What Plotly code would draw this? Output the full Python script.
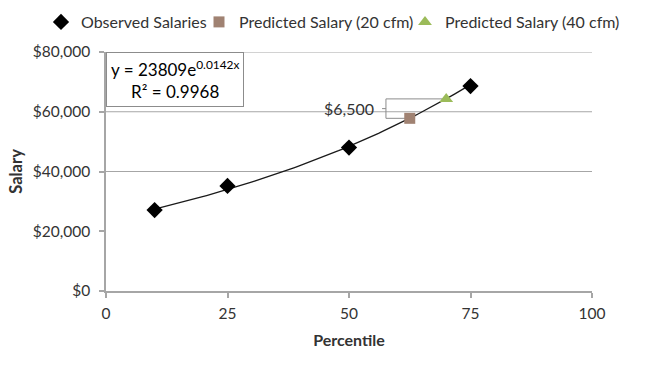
import numpy as np
import plotly.graph_objects as go

# Observed data
obs_pct = [10, 25, 50, 75]
obs_salary = [27100, 35150, 48000, 68600]

# Predicted points
pred20_pct = [62.5]
pred20_salary = [57800]
pred40_pct = [70]
pred40_salary = [64300]

# Trendline coefficients (as printed on chart)
trend_a = 23809
trend_b = 0.0142
trend_r2 = "0.9968"
trend_x = np.linspace(10, 75, 80)
trend_y = trend_a * np.exp(trend_b * trend_x)

y_ticks = [0, 20000, 40000, 60000, 80000]
y_labels = ["$0", "$20,000", "$40,000", "$60,000", "$80,000"]
x_ticks = [0, 25, 50, 75, 100]
grid_levels = [40000, 60000, 80000]

diff_label = "$6,500"

FONT = "Lato, 'Open Sans', sans-serif"
AXIS_COLOR = "#a6a6a6"
TEXT_COLOR = "#333333"

fig = go.Figure()

fig.add_trace(go.Scatter(x=trend_x, y=trend_y, mode="lines",
                         line=dict(color="#1a1a1a", width=1.3),
                         showlegend=False, hoverinfo="skip"))
fig.add_trace(go.Scatter(x=obs_pct, y=obs_salary, mode="markers",
                         name="Observed Salaries", legend="legend",
                         marker=dict(symbol="diamond", size=12.5, color="black")))
fig.add_trace(go.Scatter(x=pred20_pct, y=pred20_salary, mode="markers",
                         name="Predicted Salary (20 cfm)", legend="legend2",
                         marker=dict(symbol="square", size=11, color="#a08272")))
fig.add_trace(go.Scatter(x=pred40_pct, y=pred40_salary, mode="markers",
                         name="Predicted Salary (40 cfm)", legend="legend3",
                         marker=dict(symbol="triangle-up", size=12, color="#9bbb59")))

# gridlines
for g in grid_levels:
    fig.add_shape(type="line", xref="x", yref="y", x0=0, x1=100, y0=g, y1=g,
                  line=dict(color=AXIS_COLOR, width=1), layer="below")

# bracket showing difference between the two predictions
bx = 57.6
mid = (pred20_salary[0] + pred40_salary[0]) / 2
fig.add_shape(type="path", xref="x", yref="y",
              path=(f"M {pred40_pct[0]},{pred40_salary[0]} L {bx},{pred40_salary[0]} "
                    f"L {bx},{pred20_salary[0]} L {pred20_pct[0]},{pred20_salary[0]}"),
              line=dict(color="#8c8c8c", width=1), layer="below")
fig.add_shape(type="line", xref="x", yref="y", x0=bx - 0.8, x1=bx, y0=mid, y1=mid,
              line=dict(color="#8c8c8c", width=1))
fig.add_annotation(x=bx - 2.0, y=mid, xref="x", yref="y", text=diff_label,
                   showarrow=False, xanchor="right", yanchor="middle",
                   font=dict(size=16, color=TEXT_COLOR, family=FONT))

# equation box
fig.add_annotation(x=0, y=80000, xref="x", yref="y",
                   text=f"y = {trend_a}e<sup>{trend_b}x</sup><br>R² = {trend_r2}",
                   showarrow=False, xanchor="left", yanchor="top",
                   align="center", bordercolor="#8c8c8c", borderwidth=1,
                   borderpad=4, bgcolor="white",
                   font=dict(size=17, color="black", family=FONT))

legend_common = dict(orientation="h", xref="container", yref="container",
                     y=1 - 22 / 366, yanchor="middle", xanchor="left",
                     font=dict(size=16, color=TEXT_COLOR, family=FONT),
                     itemwidth=30, bgcolor="rgba(0,0,0,0)", borderwidth=0)

fig.update_layout(
    width=666, height=366,
    margin=dict(l=106, r=74, t=52, b=75, autoexpand=False),
    plot_bgcolor="white", paper_bgcolor="white",
    font=dict(family=FONT, size=15.5, color=TEXT_COLOR),
    legend=dict(x=41 / 666, **legend_common),
    legend2=dict(x=199 / 666, **legend_common),
    legend3=dict(x=405 / 666, **legend_common),
    xaxis=dict(range=[0, 100], tickvals=x_ticks, showgrid=False, zeroline=False,
               showline=True, linecolor=AXIS_COLOR, linewidth=2,
               ticks="outside", ticklen=5, tickcolor=AXIS_COLOR, tickwidth=1.5,
               ticklabelstandoff=2, automargin=False,
               title=dict(text="<b>Percentile</b>", font=dict(size=16, family=FONT, color=TEXT_COLOR), standoff=14),
               tickfont=dict(size=15.5, family=FONT, color=TEXT_COLOR)),
    yaxis=dict(range=[0, 80000], tickvals=y_ticks, ticktext=y_labels, showgrid=False,
               zeroline=False, showline=True, linecolor=AXIS_COLOR, linewidth=1.5,
               ticks="outside", ticklen=5, tickcolor=AXIS_COLOR, tickwidth=1.5,
               ticklabelstandoff=6, automargin=False,
               title=dict(text="<b>Salary</b>", font=dict(size=16.5, family=FONT, color=TEXT_COLOR), standoff=6),
               tickfont=dict(size=15.5, family=FONT, color=TEXT_COLOR)),
)

fig.write_html("out.html", config={"displayModeBar": False},
               post_script="document.body.style.margin='0';document.body.style.overflow='hidden';")
